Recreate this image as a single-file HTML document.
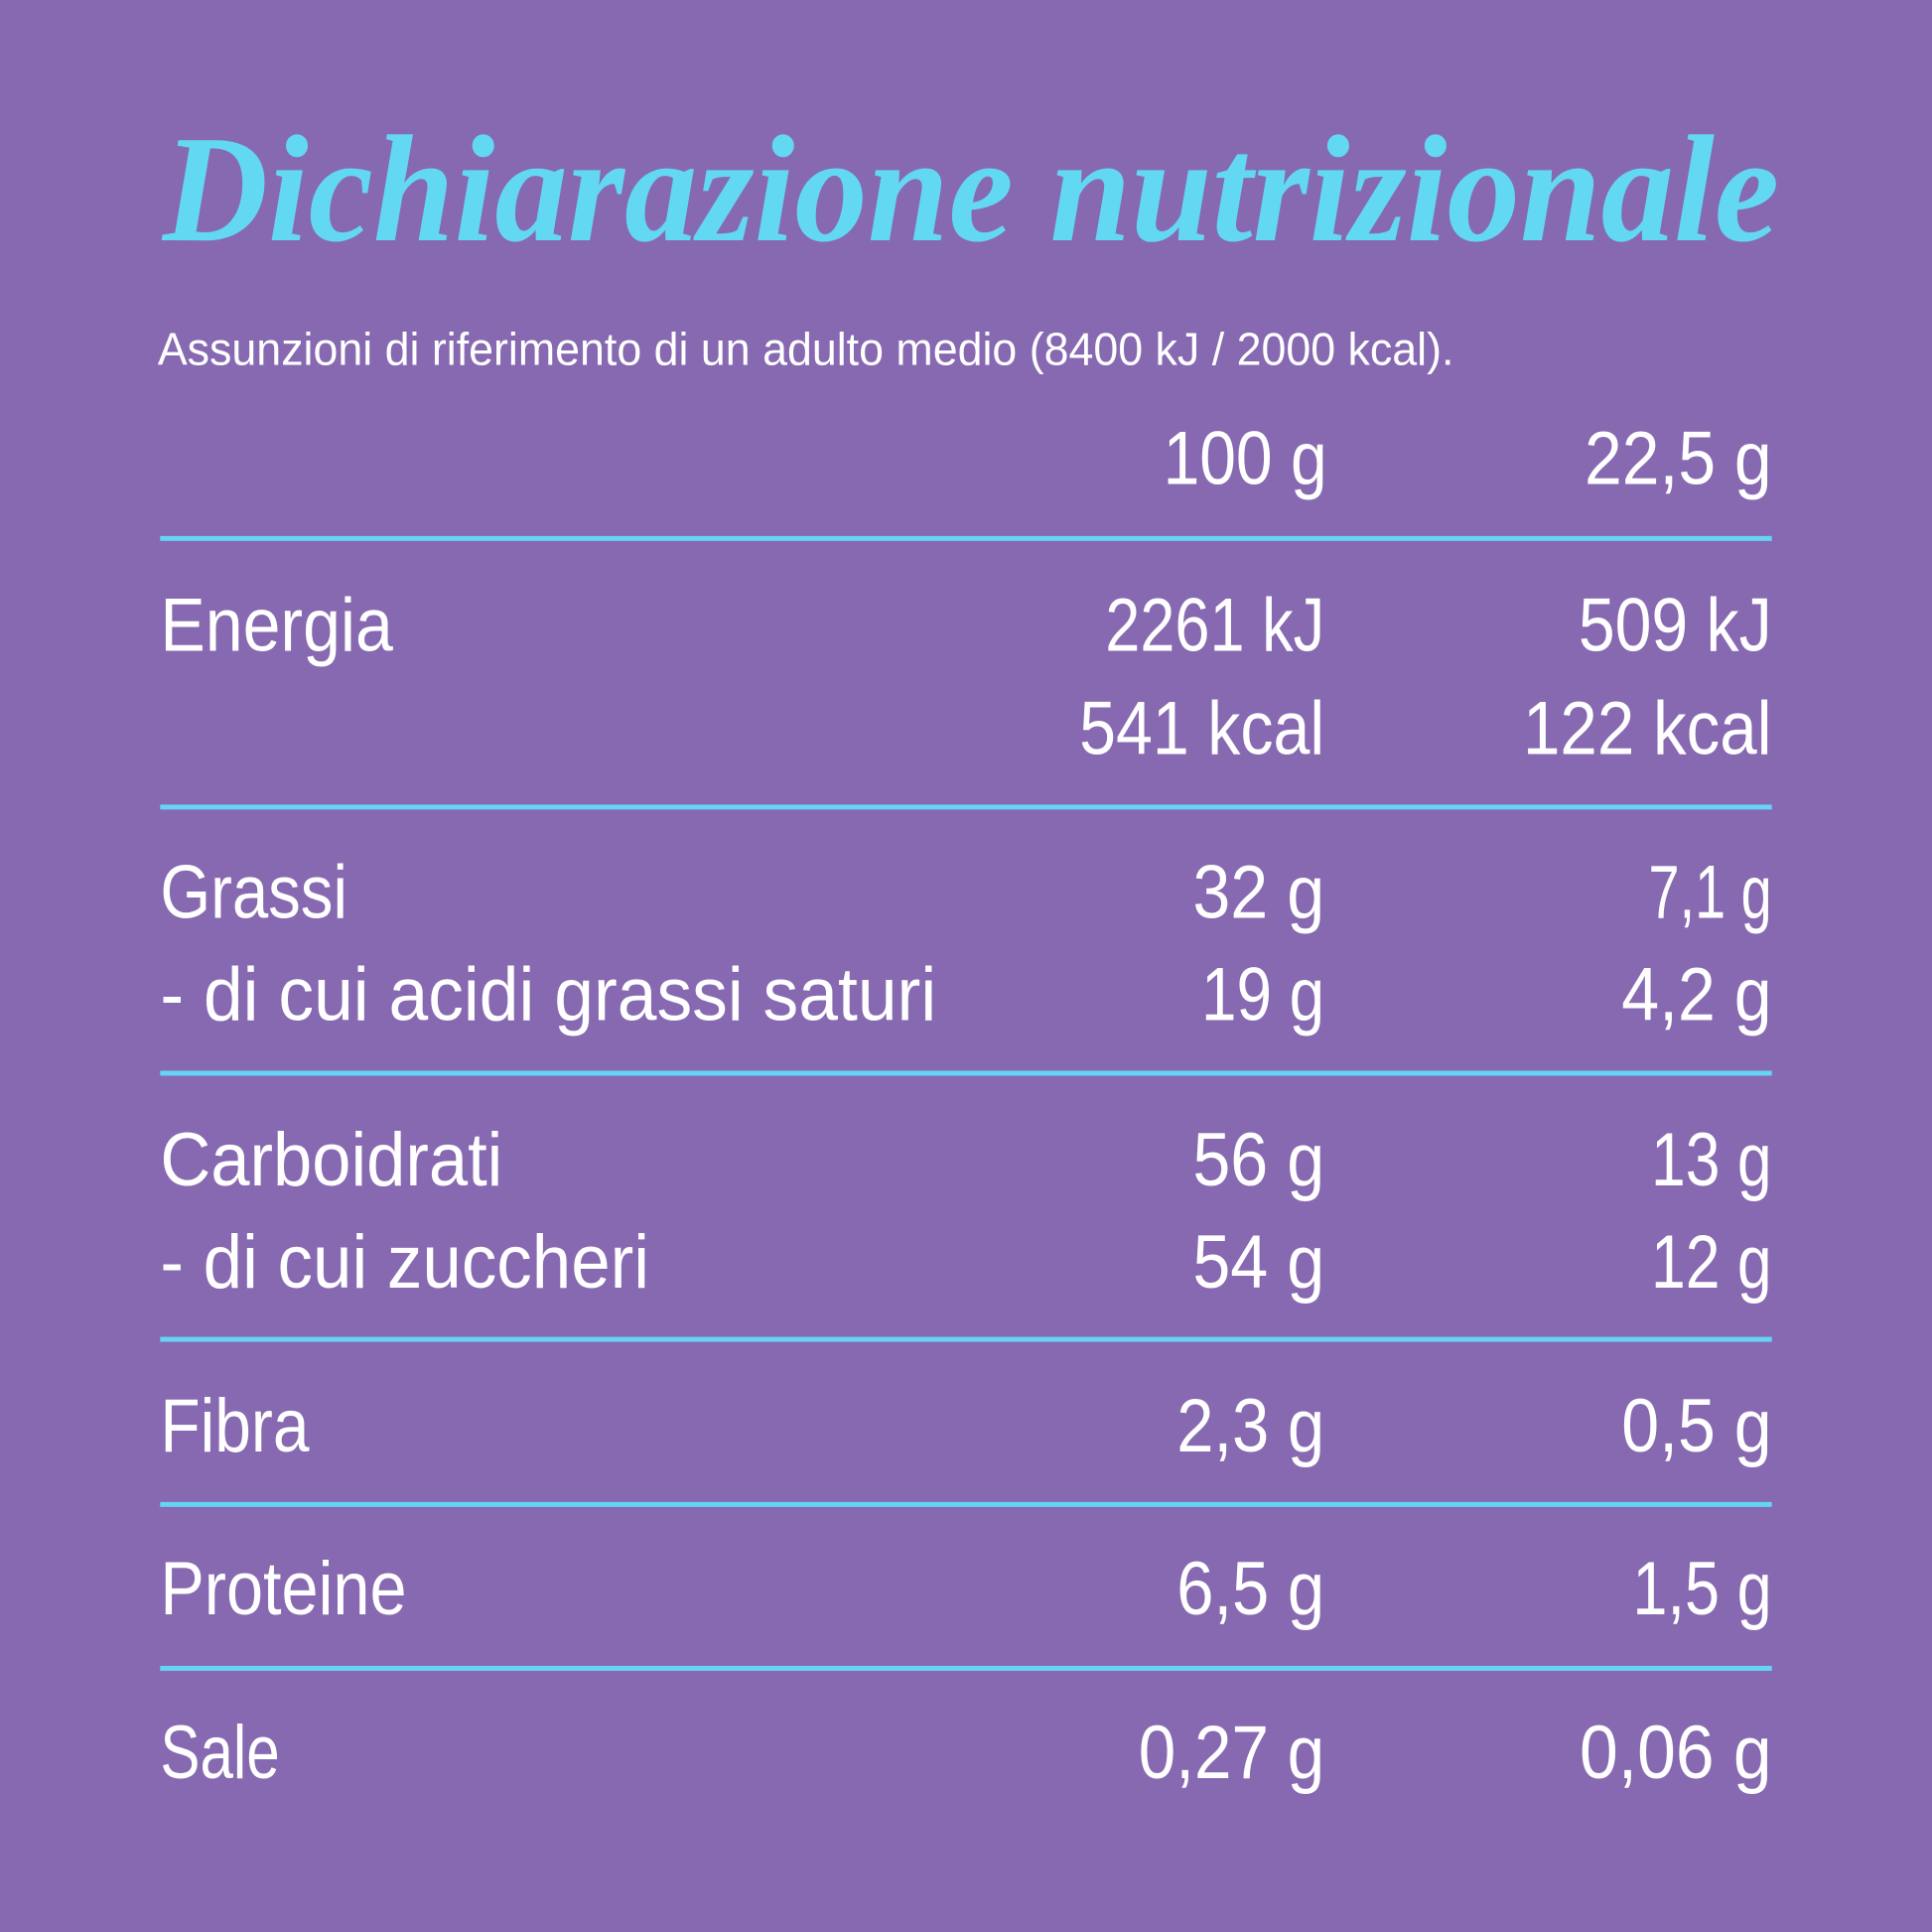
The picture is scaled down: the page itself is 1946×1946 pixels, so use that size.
<!DOCTYPE html>
<html><head><meta charset="utf-8"><style>
html,body{margin:0;padding:0;background:#8769B1;}
svg{display:block}
text{font-family:"Liberation Sans Narrow","Liberation Sans",sans-serif;fill:#fff;}
</style></head><body>
<svg width="1946" height="1946" viewBox="0 0 1568 1568" xmlns="http://www.w3.org/2000/svg">
<rect width="1568" height="1568" fill="#8769B1"/>
<text x="132" y="195" textLength="1312" lengthAdjust="spacingAndGlyphs" style="font-family:'Liberation Serif',serif;font-style:italic;font-weight:bold;font-size:124px;fill:#62D8F3">Dichiarazione nutrizionale</text>
<text x="128" y="296" textLength="1052" lengthAdjust="spacingAndGlyphs" font-size="37">Assunzioni di riferimento di un adulto medio (8400 kJ / 2000 kcal).</text>
<g fill="#66D4F5">
<rect x="130" y="435" width="1308" height="4"/>
<rect x="130" y="653" width="1308" height="4"/>
<rect x="130" y="869" width="1308" height="4"/>
<rect x="130" y="1085" width="1308" height="4"/>
<rect x="130" y="1219" width="1308" height="4"/>
<rect x="130" y="1352" width="1308" height="4"/>
</g>
<g font-size="61">
<text x="944" y="393" textLength="133" lengthAdjust="spacingAndGlyphs">100 g</text>
<text x="1286" y="393" textLength="152" lengthAdjust="spacingAndGlyphs">22,5 g</text>

<text x="130" y="528" textLength="189" lengthAdjust="spacingAndGlyphs">Energia</text>
<text x="897" y="528" textLength="178" lengthAdjust="spacingAndGlyphs">2261 kJ</text>
<text x="1281" y="528" textLength="157" lengthAdjust="spacingAndGlyphs">509 kJ</text>
<text x="876" y="612" textLength="199" lengthAdjust="spacingAndGlyphs">541 kcal</text>
<text x="1236" y="612" textLength="202" lengthAdjust="spacingAndGlyphs">122 kcal</text>

<text x="130" y="745" textLength="152" lengthAdjust="spacingAndGlyphs">Grassi</text>
<text x="968" y="745" textLength="107" lengthAdjust="spacingAndGlyphs">32 g</text>
<text x="1338" y="745" textLength="100" lengthAdjust="spacingAndGlyphs">7,1 g</text>
<text x="130" y="828" textLength="630" lengthAdjust="spacingAndGlyphs">- di cui acidi grassi saturi</text>
<text x="975" y="828" textLength="100" lengthAdjust="spacingAndGlyphs">19 g</text>
<text x="1316" y="828" textLength="122" lengthAdjust="spacingAndGlyphs">4,2 g</text>

<text x="130" y="962" textLength="278" lengthAdjust="spacingAndGlyphs">Carboidrati</text>
<text x="968" y="962" textLength="107" lengthAdjust="spacingAndGlyphs">56 g</text>
<text x="1340" y="962" textLength="98" lengthAdjust="spacingAndGlyphs">13 g</text>
<text x="130" y="1045" textLength="397" lengthAdjust="spacingAndGlyphs">- di cui zuccheri</text>
<text x="968" y="1045" textLength="107" lengthAdjust="spacingAndGlyphs">54 g</text>
<text x="1340" y="1045" textLength="98" lengthAdjust="spacingAndGlyphs">12 g</text>

<text x="130" y="1178" textLength="121" lengthAdjust="spacingAndGlyphs">Fibra</text>
<text x="955" y="1178" textLength="120" lengthAdjust="spacingAndGlyphs">2,3 g</text>
<text x="1316" y="1178" textLength="122" lengthAdjust="spacingAndGlyphs">0,5 g</text>

<text x="130" y="1310" textLength="200" lengthAdjust="spacingAndGlyphs">Proteine</text>
<text x="955" y="1310" textLength="120" lengthAdjust="spacingAndGlyphs">6,5 g</text>
<text x="1325" y="1310" textLength="113" lengthAdjust="spacingAndGlyphs">1,5 g</text>

<text x="130" y="1443" textLength="97" lengthAdjust="spacingAndGlyphs">Sale</text>
<text x="924" y="1443" textLength="151" lengthAdjust="spacingAndGlyphs">0,27 g</text>
<text x="1282" y="1443" textLength="156" lengthAdjust="spacingAndGlyphs">0,06 g</text>
</g>
</svg>
</body></html>
